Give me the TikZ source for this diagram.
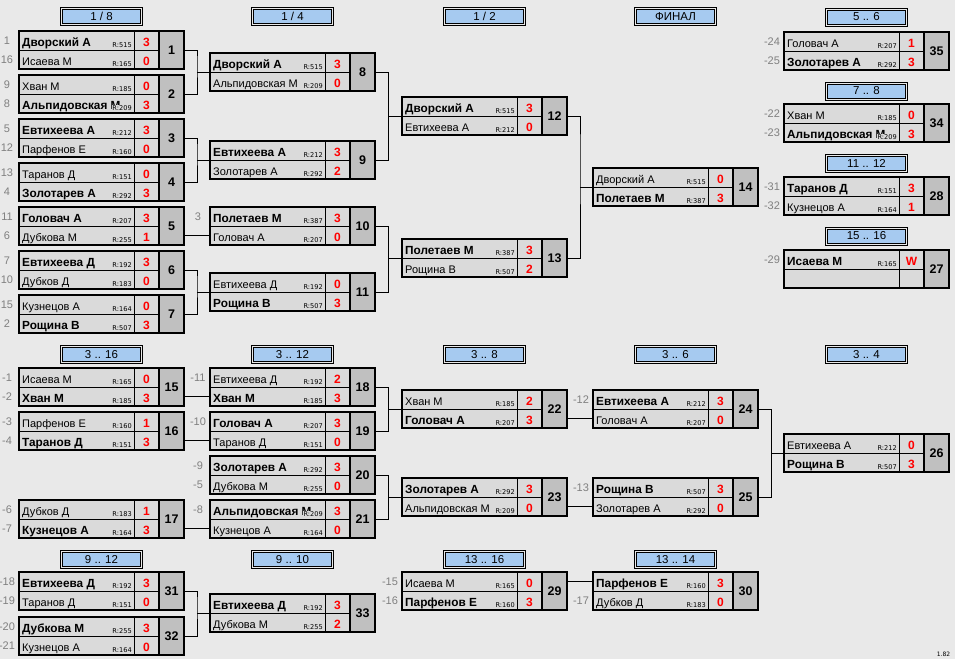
\documentclass[tikz,border=0pt]{standalone}
\usepackage{fontspec}
\setmainfont{Liberation Sans}
\newfontfamily\ratefont{DejaVu Sans}
\usepackage{tikz}
\usetikzlibrary{calc}
\definecolor{bggray}{RGB}{233,233,233}
\definecolor{rowgray}{RGB}{218,218,218}
\definecolor{numgray}{RGB}{192,192,192}
\definecolor{hdrblue}{RGB}{166,202,240}
\definecolor{seedgray}{RGB}{128,128,128}
\tikzstyle{frame} = [draw, line width=1.6pt, fill=rowgray, anchor=north west, minimum width=140pt, minimum height=38pt, inner sep=0pt, outer sep=0pt]
\tikzstyle{numbox} = [draw, line width=1.6pt, fill=numgray, anchor=west, minimum width=25pt, minimum height=38pt, inner sep=0pt, outer sep=0pt, font=\fontsize{12.5}{14}\selectfont\bfseries]
\tikzstyle{hdr} = [draw, line width=0.7pt, fill=hdrblue, anchor=north, minimum width=78pt, minimum height=14pt, inner sep=0pt, outer sep=0pt, font=\fontsize{11.5}{13}\selectfont]
\tikzstyle{pname} = [anchor=base west, inner sep=0pt, font=\fontsize{11}{13}\selectfont]
\tikzstyle{rate} = [anchor=base east, inner sep=0.6pt, fill=rowgray, font=\ratefont\fontsize{6.6}{8}\selectfont]
\tikzstyle{score} = [anchor=base, inner sep=0pt, text=red, font=\fontsize{12}{14}\selectfont\bfseries]
\tikzstyle{seed} = [anchor=base, inner sep=0pt, text=seedgray, font=\fontsize{11}{13}\selectfont]
\tikzstyle{line} = [draw, line width=0.8pt]
\newcommand{\win}[1]{{\fontsize{11.8}{13}\selectfont\bfseries #1}}
% one match: id, left, top, number
\newcommand{\game}[4]{%
  \node[frame] (#1) at (#2,#3) {};
  \node[numbox] (#1n) at (#1.east) {#4};
  \draw[line] (#1.west) -- (#1.east);
  \draw[line] ([xshift=115pt]#1.north west) -- ([xshift=115pt]#1.south west);
  \coordinate (#1-a) at ([yshift=-9.5pt]#1.north west);
  \coordinate (#1-b) at ([yshift=9.5pt]#1.south west);
}
% one player row: id, row, name, rating, score
\newcommand{\pl}[5]{%
  \node[pname] (#1#2-name) at ([xshift=3pt,yshift=-5.5pt]#1-#2) {#3};
  \node[rate] (#1#2-r) at ([xshift=113.5pt,yshift=-7pt]#1-#2) {R:#4};
  \node[score] (#1#2-s) at ([xshift=127.5pt,yshift=-5.5pt]#1-#2) {#5};
}
\newcommand{\sd}[3]{\node[seed] (#1#2-sd) at ([xshift=-12pt,yshift=-4pt]#1-#2) {#3};}
% round header with double border
\newcommand{\hd}[4]{%
  \node[hdr] (#1) at (#2,#3) {#4};
  \draw[line width=0.7pt] ([shift={(-2pt,2pt)}]#1.north west) rectangle ([shift={(2pt,-2pt)}]#1.south east);
}
\newcommand{\bracket}[3]{%
  \coordinate (#3-j) at ($(#1n.east)!0.5!(#3.west)$);
  \draw[line] (#1n.east) -| (#3-j) |- (#2n.east);
  \draw[line] (#3-j |- #3.west) -- (#3.west);
}
\newcommand{\feed}[3]{\draw[line] (#1n.east |- #2-#3) -- (#2-#3);}

\begin{document}
\begin{tikzpicture}[x=1pt,y=-1pt]
\fill[bggray] (0,0) rectangle (955,659);
\useasboundingbox (0,0) rectangle (955,659);

% round headers
\hd{h1}{101.5}{9.5}{1 / 8}
\hd{h2}{292.5}{9.5}{1 / 4}
\hd{h3}{484.5}{9.5}{1 / 2}
\hd{h4}{675.5}{9.5}{ФИНАЛ}
\hd{h5}{866.5}{10}{5 .. 6}
\hd{h6}{866.5}{84}{7 .. 8}
\hd{h7}{866.5}{156.5}{11 .. 12}
\hd{h8}{866.5}{229}{15 .. 16}
\hd{h9}{101.5}{347.5}{3 .. 16}
\hd{h10}{292.5}{347.5}{3 .. 12}
\hd{h11}{484.5}{347.5}{3 .. 8}
\hd{h12}{675.5}{347.5}{3 .. 6}
\hd{h13}{866.5}{347.5}{3 .. 4}
\hd{h14}{101.5}{552.5}{9 .. 12}
\hd{h15}{292.5}{552.5}{9 .. 10}
\hd{h16}{484.5}{552.5}{13 .. 16}
\hd{h17}{675.5}{552.5}{13 .. 14}

% 1/8
\game{m1}{19}{31}{1}
\pl{m1}{a}{\win{Дворский А}}{515}{3}
\pl{m1}{b}{Исаева М}{165}{0}
\sd{m1}{a}{1} \sd{m1}{b}{16}
\game{m2}{19}{75}{2}
\pl{m2}{a}{Хван М}{185}{0}
\pl{m2}{b}{\win{Альпидовская М}}{209}{3}
\sd{m2}{a}{9} \sd{m2}{b}{8}
\game{m3}{19}{119}{3}
\pl{m3}{a}{\win{Евтихеева А}}{212}{3}
\pl{m3}{b}{Парфенов Е}{160}{0}
\sd{m3}{a}{5} \sd{m3}{b}{12}
\game{m4}{19}{163}{4}
\pl{m4}{a}{Таранов Д}{151}{0}
\pl{m4}{b}{\win{Золотарев А}}{292}{3}
\sd{m4}{a}{13} \sd{m4}{b}{4}
\game{m5}{19}{207}{5}
\pl{m5}{a}{\win{Головач А}}{207}{3}
\pl{m5}{b}{Дубкова М}{255}{1}
\sd{m5}{a}{11} \sd{m5}{b}{6}
\game{m6}{19}{251}{6}
\pl{m6}{a}{\win{Евтихеева Д}}{192}{3}
\pl{m6}{b}{Дубков Д}{183}{0}
\sd{m6}{a}{7} \sd{m6}{b}{10}
\game{m7}{19}{295}{7}
\pl{m7}{a}{Кузнецов А}{164}{0}
\pl{m7}{b}{\win{Рощина В}}{507}{3}
\sd{m7}{a}{15} \sd{m7}{b}{2}

% 1/4
\game{m8}{210}{53}{8}
\pl{m8}{a}{\win{Дворский А}}{515}{3}
\pl{m8}{b}{Альпидовская М}{209}{0}
\game{m9}{210}{141}{9}
\pl{m9}{a}{\win{Евтихеева А}}{212}{3}
\pl{m9}{b}{Золотарев А}{292}{2}
\game{m10}{210}{207}{10}
\pl{m10}{a}{\win{Полетаев М}}{387}{3}
\pl{m10}{b}{Головач А}{207}{0}
\sd{m10}{a}{3}
\game{m11}{210}{273}{11}
\pl{m11}{a}{Евтихеева Д}{192}{0}
\pl{m11}{b}{\win{Рощина В}}{507}{3}

% 1/2 and final
\game{m12}{402}{97}{12}
\pl{m12}{a}{\win{Дворский А}}{515}{3}
\pl{m12}{b}{Евтихеева А}{212}{0}
\game{m13}{402}{239}{13}
\pl{m13}{a}{\win{Полетаев М}}{387}{3}
\pl{m13}{b}{Рощина В}{507}{2}
\game{m14}{593}{168}{14}
\pl{m14}{a}{Дворский А}{515}{0}
\pl{m14}{b}{\win{Полетаев М}}{387}{3}

% places 5..16
\game{m35}{784}{32}{35}
\pl{m35}{a}{Головач А}{207}{1}
\pl{m35}{b}{\win{Золотарев А}}{292}{3}
\sd{m35}{a}{-24} \sd{m35}{b}{-25}
\game{m34}{784}{104}{34}
\pl{m34}{a}{Хван М}{185}{0}
\pl{m34}{b}{\win{Альпидовская М}}{209}{3}
\sd{m34}{a}{-22} \sd{m34}{b}{-23}
\game{m28}{784}{177}{28}
\pl{m28}{a}{\win{Таранов Д}}{151}{3}
\pl{m28}{b}{Кузнецов А}{164}{1}
\sd{m28}{a}{-31} \sd{m28}{b}{-32}
\game{m27}{784}{250}{27}
\pl{m27}{a}{\win{Исаева М}}{165}{W}
\sd{m27}{a}{-29}

% 3..16
\game{m15}{19}{368}{15}
\pl{m15}{a}{Исаева М}{165}{0}
\pl{m15}{b}{\win{Хван М}}{185}{3}
\sd{m15}{a}{-1} \sd{m15}{b}{-2}
\game{m16}{19}{412}{16}
\pl{m16}{a}{Парфенов Е}{160}{1}
\pl{m16}{b}{\win{Таранов Д}}{151}{3}
\sd{m16}{a}{-3} \sd{m16}{b}{-4}
\game{m17}{19}{500}{17}
\pl{m17}{a}{Дубков Д}{183}{1}
\pl{m17}{b}{\win{Кузнецов А}}{164}{3}
\sd{m17}{a}{-6} \sd{m17}{b}{-7}

% 3..12
\game{m18}{210}{368}{18}
\pl{m18}{a}{Евтихеева Д}{192}{2}
\pl{m18}{b}{\win{Хван М}}{185}{3}
\sd{m18}{a}{-11}
\game{m19}{210}{412}{19}
\pl{m19}{a}{\win{Головач А}}{207}{3}
\pl{m19}{b}{Таранов Д}{151}{0}
\sd{m19}{a}{-10}
\game{m20}{210}{456}{20}
\pl{m20}{a}{\win{Золотарев А}}{292}{3}
\pl{m20}{b}{Дубкова М}{255}{0}
\sd{m20}{a}{-9} \sd{m20}{b}{-5}
\game{m21}{210}{500}{21}
\pl{m21}{a}{\win{Альпидовская М}}{209}{3}
\pl{m21}{b}{Кузнецов А}{164}{0}
\sd{m21}{a}{-8}

% 3..8, 3..6, 3..4
\game{m22}{402}{390}{22}
\pl{m22}{a}{Хван М}{185}{2}
\pl{m22}{b}{\win{Головач А}}{207}{3}
\game{m23}{402}{478}{23}
\pl{m23}{a}{\win{Золотарев А}}{292}{3}
\pl{m23}{b}{Альпидовская М}{209}{0}
\game{m24}{593}{390}{24}
\pl{m24}{a}{\win{Евтихеева А}}{212}{3}
\pl{m24}{b}{Головач А}{207}{0}
\sd{m24}{a}{-12}
\game{m25}{593}{478}{25}
\pl{m25}{a}{\win{Рощина В}}{507}{3}
\pl{m25}{b}{Золотарев А}{292}{0}
\sd{m25}{a}{-13}
\game{m26}{784}{434}{26}
\pl{m26}{a}{Евтихеева А}{212}{0}
\pl{m26}{b}{\win{Рощина В}}{507}{3}

% 9..16
\game{m31}{19}{572}{31}
\pl{m31}{a}{\win{Евтихеева Д}}{192}{3}
\pl{m31}{b}{Таранов Д}{151}{0}
\sd{m31}{a}{-18} \sd{m31}{b}{-19}
\game{m32}{19}{617}{32}
\pl{m32}{a}{\win{Дубкова М}}{255}{3}
\pl{m32}{b}{Кузнецов А}{164}{0}
\sd{m32}{a}{-20} \sd{m32}{b}{-21}
\game{m33}{210}{594}{33}
\pl{m33}{a}{\win{Евтихеева Д}}{192}{3}
\pl{m33}{b}{Дубкова М}{255}{2}
\game{m29}{402}{572}{29}
\pl{m29}{a}{Исаева М}{165}{0}
\pl{m29}{b}{\win{Парфенов Е}}{160}{3}
\sd{m29}{a}{-15} \sd{m29}{b}{-16}
\game{m30}{593}{572}{30}
\pl{m30}{a}{\win{Парфенов Е}}{160}{3}
\pl{m30}{b}{Дубков Д}{183}{0}
\sd{m30}{b}{-17}

% connectors
\bracket{m1}{m2}{m8}
\bracket{m3}{m4}{m9}
\feed{m5}{m10}{b}
\bracket{m6}{m7}{m11}
\bracket{m8}{m9}{m12}
\bracket{m10}{m11}{m13}
\bracket{m12}{m13}{m14}
\feed{m15}{m18}{b}
\feed{m16}{m19}{b}
\feed{m17}{m21}{b}
\bracket{m18}{m19}{m22}
\bracket{m20}{m21}{m23}
\feed{m22}{m24}{b}
\feed{m23}{m25}{b}
\bracket{m24}{m25}{m26}
\bracket{m31}{m32}{m33}
\feed{m29}{m30}{a}

\node[inner sep=0pt, font=\ratefont\fontsize{6}{7}\selectfont] (ver) at (943.5,654) {1.82};
\end{tikzpicture}
\end{document}
